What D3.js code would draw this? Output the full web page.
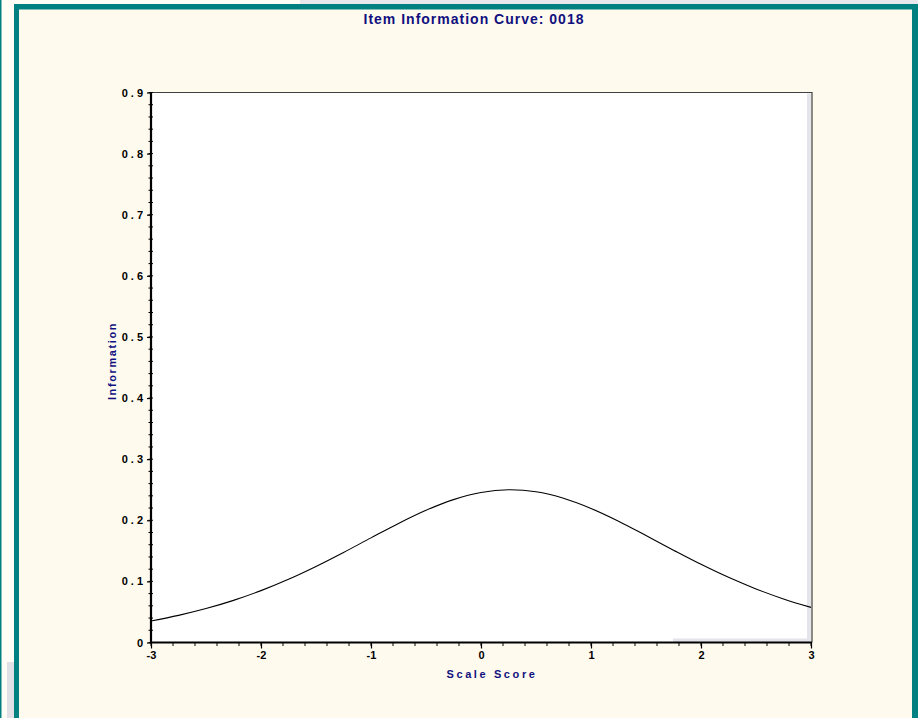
<!DOCTYPE html>
<html>
<head>
<meta charset="utf-8">
<script src="https://cdn.jsdelivr.net/npm/d3@7"></script>
<style>
  html, body { margin: 0; padding: 0; background: #ffffff; }
  svg { display: block; }
  text { font-family: "Liberation Sans", Arial, sans-serif; }
</style>
</head>
<body>
<svg id="chart" width="918" height="718"></svg>
<script>
// ---- data ----
const titleText = "Item Information Curve: 0018";
const xLabel = "Scale Score";
const yLabel = "Information";
const xTicks = [-3, -2, -1, 0, 1, 2, 3];
const yTicks = [0, 0.1, 0.2, 0.3, 0.4, 0.5, 0.6, 0.7, 0.8, 0.9];
const thetaValues = [-3, -2.75, -2.5, -2.25, -2, -1.75, -1.5, -1.25, -1, -0.75, -0.5, -0.25,
                     0, 0.25, 0.5, 0.75, 1, 1.25, 1.5, 1.75, 2, 2.25, 2.5, 2.75, 3];
const infoValues = [0.0353, 0.0444, 0.0555, 0.0689, 0.0849, 0.1034, 0.1244, 0.1473, 0.1712,
                    0.1948, 0.2163, 0.2338, 0.2455, 0.2500, 0.2467, 0.2361, 0.2194, 0.1985,
                    0.1750, 0.1511, 0.1279, 0.1066, 0.0877, 0.0713, 0.0575];

const svg = d3.select("#chart");
const W = 918, H = 718;

// ---- page frame ----
svg.append("rect").attr("x", 0).attr("y", 0).attr("width", W).attr("height", H).attr("fill", "#fffdf6");
svg.append("rect").attr("x", 300).attr("y", 0).attr("width", W - 300).attr("height", 5).attr("fill", "#e8e8ec");
svg.append("rect").attr("x", 7).attr("y", 662).attr("width", 7).attr("height", H - 662).attr("fill", "#e0e0e6");
svg.append("rect").attr("x", 0).attr("y", 0).attr("width", 1.5).attr("height", H).attr("fill", "#008080");
// teal border
svg.append("rect").attr("x", 14).attr("y", 4).attr("width", W - 14).attr("height", H - 4).attr("fill", "#008080");
svg.append("rect").attr("x", 19).attr("y", 9.5).attr("width", 912 - 19).attr("height", H - 9.5).attr("fill", "#fffaee");

// ---- plot ----
const x = d3.scaleLinear().domain([-3, 3]).range([151, 811]);
const y = d3.scaleLinear().domain([0, 0.9]).range([642.5, 92.5]);

const g = svg.append("g");
g.append("rect")
  .attr("x", x(-3)).attr("y", y(0.9))
  .attr("width", x(3) - x(-3)).attr("height", y(0) - y(0.9))
  .attr("fill", "#ffffff");
// light shadows inside the frame
g.append("rect").attr("x", x(3) - 4).attr("y", y(0.9) + 1).attr("width", 4).attr("height", y(0) - y(0.9) - 1).attr("fill", "#e4e4ea");
g.append("rect").attr("x", 673).attr("y", y(0) - 4).attr("width", x(3) - 673).attr("height", 4).attr("fill", "#e4e4ea");
// top and right frame lines
g.append("path")
  .attr("d", `M${x(-3)},${y(0.9)}H${x(3) + 1}V${y(0)}`)
  .attr("fill", "none").attr("stroke", "#404040").attr("stroke-width", 1.2);

// curve
const line = d3.line()
  .x((d, i) => x(thetaValues[i]))
  .y(d => y(d))
  .curve(d3.curveCatmullRom.alpha(0.5));
g.append("path")
  .datum(infoValues)
  .attr("d", line)
  .attr("fill", "none")
  .attr("stroke", "#000000")
  .attr("stroke-width", 1.1);

// ---- axes ----
const yMinor = d3.range(0, 0.9001, 0.02);
const xMinor = d3.range(-3, 3.0001, 0.2);

// y minor ticks
g.append("g").selectAll("line").data(yMinor).join("line")
  .attr("x1", x(-3) - 2.5).attr("x2", x(-3) + 2)
  .attr("y1", d => y(d)).attr("y2", d => y(d))
  .attr("stroke", "#000").attr("stroke-width", 1);
// x minor ticks
g.append("g").selectAll("line").data(xMinor).join("line")
  .attr("x1", d => x(d)).attr("x2", d => x(d))
  .attr("y1", y(0)).attr("y2", y(0) + 3.5)
  .attr("stroke", "#000").attr("stroke-width", 1);

const yAxis = d3.axisLeft(y).tickValues(yTicks).tickSize(4).tickPadding(1)
  .tickFormat(d => d === 0 ? "0" : d3.format(".1f")(d));
const yAxisG = g.append("g").attr("transform", `translate(${x(-3)},0)`).call(yAxis);
yAxisG.select(".domain").attr("stroke", "#000").attr("stroke-width", 2.2)
  .attr("d", `M0,${y(0) + 1}V${y(0.9) - 0.5}`);
yAxisG.selectAll(".tick line").attr("stroke", "#000").attr("stroke-width", 1.2);
yAxisG.selectAll(".tick text")
  .attr("font-family", "Liberation Sans, Arial, sans-serif")
  .attr("font-size", 11).attr("font-weight", "bold")
  .attr("letter-spacing", "3px").attr("fill", "#000");

const xAxis = d3.axisBottom(x).tickValues(xTicks).tickSize(6).tickPadding(3)
  .tickFormat(d3.format("d"));
const xAxisG = g.append("g").attr("transform", `translate(0,${y(0)})`).call(xAxis);
xAxisG.select(".domain").attr("stroke", "#000").attr("stroke-width", 2.2)
  .attr("d", `M${x(-3) - 1},0H${x(3) + 1}`);
xAxisG.selectAll(".tick line").attr("stroke", "#000").attr("stroke-width", 1.2);
xAxisG.selectAll(".tick text")
  .attr("font-family", "Liberation Sans, Arial, sans-serif")
  .attr("font-size", 11).attr("font-weight", "bold").attr("fill", "#000")
  .text(d => d3.format("d")(d).replace("−", "-"));

// ---- titles ----
svg.append("text")
  .attr("x", 474).attr("y", 24)
  .attr("text-anchor", "middle")
  .attr("font-size", 14).attr("font-weight", "bold")
  .attr("letter-spacing", "1px")
  .attr("fill", "#10107f")
  .text(titleText);

svg.append("text")
  .attr("x", 492).attr("y", 678)
  .attr("text-anchor", "middle")
  .attr("font-size", 11).attr("font-weight", "bold")
  .attr("letter-spacing", "2.6px")
  .attr("fill", "#10107f")
  .text(xLabel);

svg.append("text")
  .attr("transform", "translate(116,361) rotate(-90)")
  .attr("text-anchor", "middle")
  .attr("font-size", 11).attr("font-weight", "bold")
  .attr("letter-spacing", "1.6px")
  .attr("fill", "#10107f")
  .text(yLabel);
</script>
</body>
</html>
